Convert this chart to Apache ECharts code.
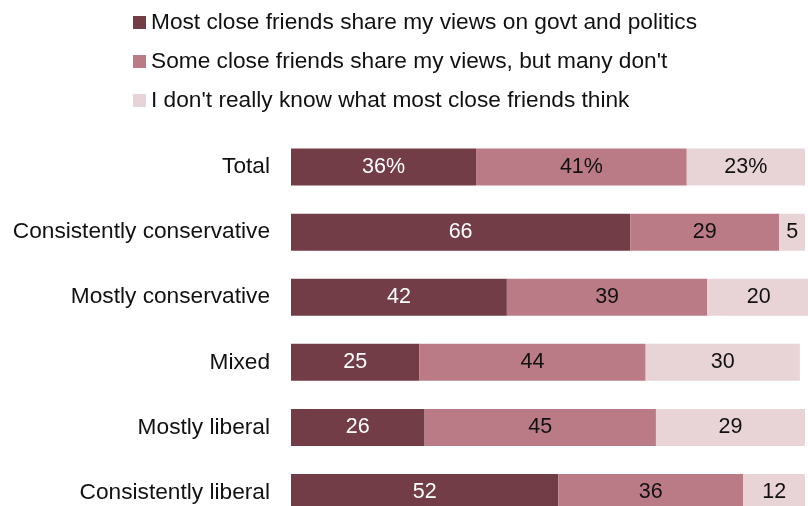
<!DOCTYPE html>
<html>
<head>
<meta charset="utf-8">
<script src="https://cdn.jsdelivr.net/npm/echarts@6/dist/echarts.min.js"></script>
<style>
  html, body { margin: 0; padding: 0; background: #fff; overflow: hidden; }
  /* the last row runs past the bottom edge of the window */
  #chart { width: 808px; height: 525px; }
</style>
</head>
<body>
<div id="chart"></div>
<script>
// Ideological groups, top to bottom
const categories = [
  'Total',
  'Consistently conservative',
  'Mostly conservative',
  'Mixed',
  'Mostly liberal',
  'Consistently liberal'
];

const seriesNames = [
  'Most close friends share my views on govt and politics',
  "Some close friends share my views, but many don't",
  "I don't really know what most close friends think"
];

// Percent of each group
const mostShare = [36, 66, 42, 25, 26, 52];
const someShare = [41, 29, 39, 44, 45, 36];
const dontKnow  = [23, 5, 20, 30, 29, 12];

const colors = ['#733d48', '#bb7b86', '#e8d3d7'];
const labelColors = ['#ffffff', '#111111', '#111111'];
const FONT = '"Liberation Sans", Arial, sans-serif';
const TEXT_SIZE = 22.7;

const chart = echarts.init(document.getElementById('chart'), null, { renderer: 'canvas' });

function makeSeries(name, data, i) {
  return {
    name: name,
    type: 'bar',
    stack: 'all',
    data: data,
    barWidth: 37,
    clip: false,
    itemStyle: { color: colors[i] },
    emphasis: { disabled: true },
    label: {
      show: true,
      position: 'inside',
      color: labelColors[i],
      fontFamily: FONT,
      fontSize: 21.5,
      formatter: p => p.dataIndex === 0 ? p.value + '%' : String(p.value)
    }
  };
}

chart.setOption({
  animation: false,
  legend: {
    orient: 'vertical',
    left: 133,
    top: 11,
    padding: 0,
    itemWidth: 13,
    itemHeight: 13,
    itemGap: 16,
    icon: 'rect',
    textStyle: { fontFamily: FONT, fontSize: TEXT_SIZE, color: '#111', padding: [0, 0, 0, 0] },
    data: seriesNames
  },
  grid: { left: 291, right: 3, top: 134.5, bottom: 0, containLabel: false },
  xAxis: {
    type: 'value',
    min: 0,
    max: 100,
    show: false
  },
  yAxis: {
    type: 'category',
    data: categories,
    inverse: true,
    axisLine: { show: false },
    axisTick: { show: false },
    splitLine: { show: false },
    axisLabel: { margin: 21, color: '#111', fontFamily: FONT, fontSize: TEXT_SIZE }
  },
  series: [
    makeSeries(seriesNames[0], mostShare, 0),
    makeSeries(seriesNames[1], someShare, 1),
    makeSeries(seriesNames[2], dontKnow, 2)
  ]
});
</script>
</body>
</html>
